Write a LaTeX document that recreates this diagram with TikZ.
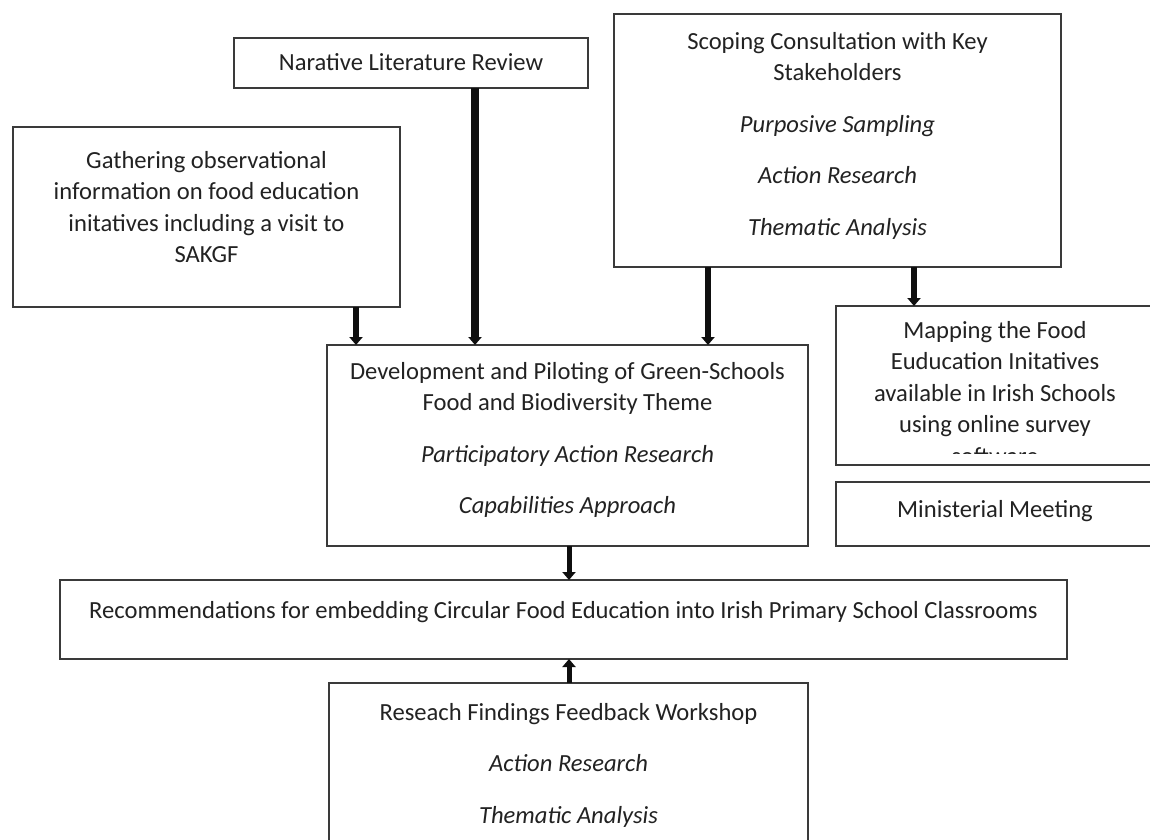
\documentclass[tikz,border=0pt]{standalone}
\usepackage{fontspec}
\setmainfont{Carlito}
\usetikzlibrary{arrows.meta}

\definecolor{edge}{HTML}{3A3A3A}
\definecolor{ink}{HTML}{222222}
\definecolor{shaft}{HTML}{0F0F0F}

% body text size and spacing
\newcommand\fbody{\fontsize{24.6}{31.5}\selectfont}
\newcommand\paragap{\par\vspace{20pt}}
% box contents: width, height, gap above first line, text
\newcommand\boxbody[4]{%
  \begin{minipage}[t][#2][t]{#1}\vspace*{#3}\centering\fbody
  \rule{0pt}{18pt}#4\par\end{minipage}}

\tikzset{
  panel/.style={draw=edge, line width=2.2pt, inner sep=0pt, outer sep=0pt,
    anchor=north west, text=ink, fill=white},
  plain/.style={inner sep=0pt, outer sep=0pt, anchor=north west, text=ink},
  flow/.style={draw=shaft, line width=#1,
    -{Triangle[length=8pt,width=13pt]}},
  flow/.default=6pt,
}

\begin{document}
\begin{tikzpicture}[x=1pt,y=-1pt]
  \fill[white] (0,0) rectangle (1150,839);
  \clip (0,0) rectangle (1150,839);

  % sources
  \node[panel] (narr) at (234,38)
    {\boxbody{354pt}{50pt}{14pt}{Narative Literature Review}};

  \node[panel] (gath) at (13,127)
    {\boxbody{387pt}{180pt}{23pt}{Gathering observational\\
      information on food education\\
      initatives including a visit to\\
      SAKGF}};

  \node[panel] (scope) at (614,14)
    {\boxbody{447pt}{253pt}{17pt}{Scoping Consultation with Key\\
      Stakeholders\paragap
      \textit{Purposive Sampling}\paragap
      \textit{Action Research}\paragap
      \textit{Thematic Analysis}}};

  % central theme
  \node[panel] (dev) at (327,345)
    {\boxbody{481pt}{201pt}{16pt}{Development and Piloting of Green-Schools\\
      Food and Biodiversity Theme\paragap
      \textit{Participatory Action Research}\paragap
      \textit{Capabilities Approach}}};

  % side boxes; the last line of the survey text is cut off by the frame
  \node[panel] (map) at (836,306)
    {\begin{minipage}[t][159pt][t]{318pt}\mbox{}\end{minipage}};
  \begin{scope}
    \clip (836,306) rectangle (1154,453);
    \node[plain] (maptext) at (836,306)
      {\boxbody{318pt}{159pt}{14pt}{Mapping the Food\\
        Euducation Initatives\\
        available in Irish Schools\\
        using online survey\\
        software}};
  \end{scope}

  \node[panel] (min) at (836,482)
    {\boxbody{318pt}{64pt}{17pt}{Ministerial Meeting}};

  % outcome
  \node[panel] (rec) at (60,580)
    {\boxbody{1007pt}{79pt}{20pt}{Recommendations for embedding Circular Food Education into Irish Primary School Classrooms}};

  \node[panel] (work) at (329,683)
    {\boxbody{479pt}{200pt}{19pt}{Reseach Findings Feedback Workshop\paragap
      \textit{Action Research}\paragap
      \textit{Thematic Analysis}}};

  % connector columns
  \coordinate (cg) at (356,0);
  \coordinate (cn) at (475,0);
  \coordinate (cs) at (708,0);
  \coordinate (cm) at (914,0);
  \coordinate (cr) at (569,0);

  \draw[flow=6.5pt] (gath.south -| cg) -- (dev.north -| cg);
  \draw[flow=8pt]   (narr.south -| cn) -- (dev.north -| cn);
  \draw[flow=6pt]   (scope.south -| cs) -- (dev.north -| cs);
  \draw[flow=6pt]   (scope.south -| cm) -- (map.north -| cm);
  \draw[flow=5pt]   (dev.south -| cr) -- (rec.north -| cr);
  \draw[flow=5pt]   (work.north -| cr) -- (rec.south -| cr);
\end{tikzpicture}
\end{document}
